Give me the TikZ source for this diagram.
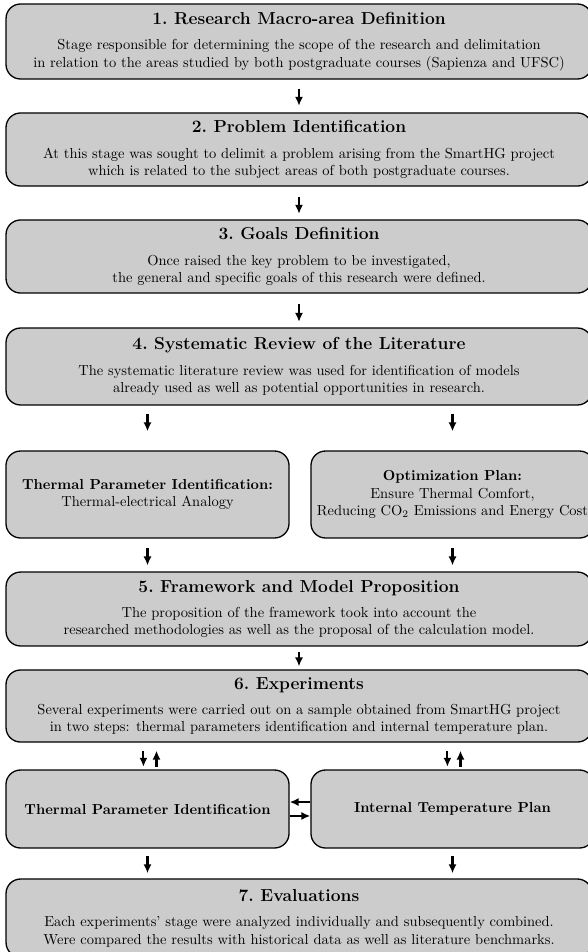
\documentclass[tikz,border=0pt]{standalone}
\usetikzlibrary{arrows.meta}
\begin{document}
\begin{tikzpicture}[x=0.69pt,y=-0.69pt,
  box/.style={draw, fill=black!20, rounded corners=10pt, line width=0.9pt, align=center, inner sep=0pt},
  big/.style={box, minimum width=404.3pt},
  half/.style={box, minimum width=195.3pt},
  arr/.style={-{Latex[length=6.2pt,width=5.6pt]}, line width=1.45pt}]
\useasboundingbox (0,0) rectangle (587,952);

\node[big, minimum height=51.75pt] (b1) at (299,41.5) {{\large\bfseries 1.\ Research Macro-area Definition}\\[5.5pt]
Stage responsible for determining the scope of the research and delimitation\\
in relation to the areas studied by both postgraduate courses (Sapienza and UFSC)};

\node[big, minimum height=50.4pt] (b2) at (299,149.5) {{\large\bfseries 2.\ Problem Identification}\\[5.5pt]
At this stage was sought to delimit a problem arising from the SmartHG project\\
which is related to the subject areas of both postgraduate courses.};

\node[big, minimum height=50.4pt] (b3) at (299,256.5) {{\large\bfseries 3.\ Goals Definition}\\[5.5pt]
Once raised the key problem to be investigated,\\
the general and specific goals of this research were defined.};

\node[big, minimum height=53.1pt] (b4) at (299,366.5) {{\large\bfseries 4.\ Systematic Review of the Literature}\\[5.5pt]
The systematic literature review was used for identification of models\\
already used as well as potential opportunities in research.};

\node[half, minimum height=60pt] (s1) at (147.5,494.5) {\textbf{Thermal Parameter Identification:}\\
Thermal-electrical Analogy};
\node[half, minimum height=60pt] (s2) at (452.5,494.5) {\textbf{Optimization Plan:}\\
Ensure Thermal Comfort,\\
Reducing CO$_2$ Emissions and Energy Cost};

\node[big, minimum height=51pt] (b5) at (299,609) {{\large\bfseries 5.\ Framework and Model Proposition}\\[5.5pt]
The proposition of the framework took into account the\\
researched methodologies as well as the proposal of the calculation model.};

\node[big, minimum height=49.7pt] (b6) at (299,706) {{\large\bfseries 6.\ Experiments}\\[5.5pt]
Several experiments were carried out on a sample obtained from SmartHG project\\
in two steps: thermal parameters identification and internal temperature plan.};

\node[half, minimum height=53.8pt] (l1) at (147.5,809) {\textbf{Thermal Parameter Identification}};
\node[half, minimum height=53.8pt] (l2) at (452.5,809) {\textbf{Internal Temperature Plan}};

\node[big, minimum height=53.8pt] (b7) at (299,918) {{\large\bfseries 7.\ Evaluations}\\[5.5pt]
Each experiments' stage were analyzed individually and subsequently combined.\\
Were compared the results with historical data as well as literature benchmarks.};

\draw[arr, shorten <=6.2pt, shorten >=4.5pt] (b1) -- (b2);
\draw[arr, shorten <=6.8pt, shorten >=3.8pt] (b2) -- (b3);
\draw[arr, shorten <=6.8pt, shorten >=3.8pt] (b3) -- (b4);
\draw[arr, shorten <=5.5pt, shorten >=13.1pt] (b4.south -| s1.north) -- (s1.north);
\draw[arr, shorten <=5.5pt, shorten >=13.1pt] (b4.south -| s2.north) -- (s2.north);
\draw[arr, shorten <=6.8pt, shorten >=4.1pt] (s1.south) -- (s1.south |- b5.north);
\draw[arr, shorten <=6.8pt, shorten >=4.1pt] (s2.south) -- (s2.south |- b5.north);
\draw[arr, shorten <=4pt, shorten >=2pt] (b5) -- (b6);

\draw[arr, shorten <=5.5pt, shorten >=1.8pt] ([xshift=-2.8pt]b6.south -| l1.north) -- ([xshift=-2.8pt]l1.north);
\draw[arr, shorten <=1.8pt, shorten >=5.5pt] ([xshift=6.2pt]l1.north) -- ([xshift=6.2pt]b6.south -| l1.north);
\draw[arr, shorten <=5.5pt, shorten >=1.8pt] ([xshift=-3.5pt]b6.south -| l2.north) -- ([xshift=-3.5pt]l2.north);
\draw[arr, shorten <=1.8pt, shorten >=5.5pt] ([xshift=5.5pt]l2.north) -- ([xshift=5.5pt]b6.south -| l2.north);

\draw[arr] ([yshift=4.8pt]l2.west) -- ([yshift=4.8pt]l1.east);
\draw[arr] ([yshift=-4.8pt]l1.east) -- ([yshift=-4.8pt]l2.west);

\draw[arr, shorten <=4.8pt, shorten >=3.5pt] (l1.south) -- (l1.south |- b7.north);
\draw[arr, shorten <=4.8pt, shorten >=3.5pt] (l2.south) -- (l2.south |- b7.north);
\end{tikzpicture}
\end{document}
